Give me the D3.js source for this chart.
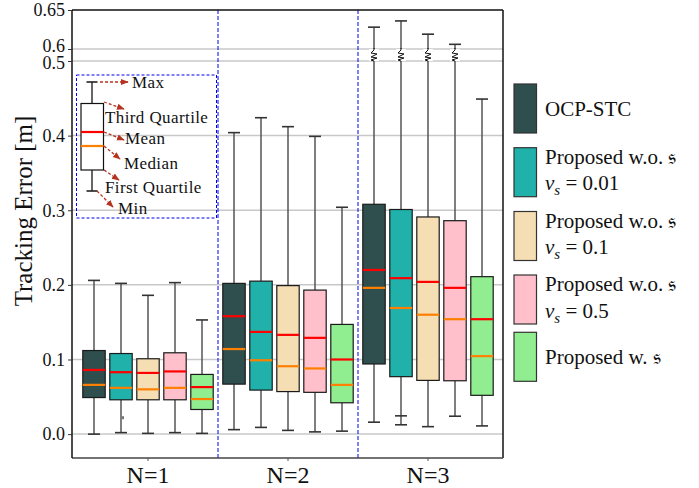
<!DOCTYPE html>
<html>
<head>
<meta charset="utf-8">
<script src="https://cdn.jsdelivr.net/npm/d3@7"></script>
<style>
  body { margin: 0; background: #fff; }
  text { font-family: "Liberation Serif", "Times New Roman", serif; fill: #111; }
</style>
</head>
<body>
<svg id="chart" width="699" height="488"></svg>
<script>
// DATA
// groups on the x axis
var groups = ["N=1", "N=2", "N=3"];
// series (legend order)
var seriesLabels = [
  ["OCP-STC"],
  ["Proposed w.o. \u{1D530}", "0.01"],
  ["Proposed w.o. \u{1D530}", "0.1"],
  ["Proposed w.o. \u{1D530}", "0.5"],
  ["Proposed w. \u{1D530}"]
];
var seriesColors = ["#2f4f4f", "#20b2aa", "#f5deb3", "#ffc0cb", "#90ee90"];

// box statistics, one row per series, one value per group (N=1, N=2, N=3)
var maxVals    = [[0.206, 0.404, 0.628], [0.202, 0.424, 0.636], [0.186, 0.412, 0.619], [0.203, 0.399, 0.606], [0.153, 0.304, 0.449]];
var q3Vals     = [[0.112, 0.202, 0.308], [0.108, 0.205, 0.301], [0.101, 0.199, 0.291], [0.109, 0.193, 0.286], [0.080, 0.147, 0.211]];
var meanVals   = [[0.086, 0.158, 0.220], [0.083, 0.137, 0.209], [0.082, 0.133, 0.204], [0.084, 0.129, 0.196], [0.063, 0.100, 0.154]];
var medianVals = [[0.066, 0.114, 0.196], [0.062, 0.099, 0.169], [0.060, 0.091, 0.160], [0.062, 0.088, 0.154], [0.047, 0.066, 0.1045]];
var q1Vals     = [[0.049, 0.067, 0.094], [0.046, 0.059, 0.077], [0.046, 0.057, 0.072], [0.046, 0.056, 0.0715], [0.033, 0.042, 0.052]];
var minVals    = [[0.000, 0.006, 0.016], [0.002, 0.009, 0.0125], [0.001, 0.005, 0.010], [0.002, 0.003, 0.024], [0.001, 0.004, 0.011]];
// stray points
var flierDots = [{ group: "N=1", series: 1, value: 0.022 }];
var flierCaps = [{ group: "N=3", series: 1, value: 0.0245 }];

// y axis ticks (broken axis above 0.5)
var yTicks = [0, 0.1, 0.2, 0.3, 0.4, 0.5, 0.6, 0.65];
var yTickLabels = ["0.0", "0.1", "0.2", "0.3", "0.4", "0.5", "0.6", "0.65"];

// LAYOUT
var svg = d3.select("#chart");
var pLeft = 72, pRight = 503, pTop = 10, pBottom = 458;

var x = d3.scaleBand().domain(groups).range([78, 498]);
var xs = d3.scaleBand().domain(d3.range(seriesLabels.length))
  .range([2.5, x.bandwidth() - 2.5]).paddingInner(0.17).paddingOuter(0.085);
var y = d3.scaleLinear().domain([-0.032, 0.5, 0.6, 0.65]).range([pBottom, 61, 49, pTop]);

var boxes = [];
groups.forEach(function(g, gi) {
  seriesLabels.forEach(function(s, si) {
    boxes.push({
      g: g, s: si,
      max: maxVals[si][gi], q3: q3Vals[si][gi], mean: meanVals[si][gi],
      med: medianVals[si][gi], q1: q1Vals[si][gi], min: minVals[si][gi]
    });
  });
});

// gridlines
svg.append("g").selectAll("line")
  .data(yTicks.filter(function(d) { return d < 0.65; }))
  .enter().append("line")
  .attr("x1", pLeft).attr("x2", pRight)
  .attr("y1", function(d) { return y(d); }).attr("y2", function(d) { return y(d); })
  .attr("stroke", "#c8c8c8").attr("stroke-width", 1.5);

// group separators
svg.append("g").selectAll("line")
  .data(groups.slice(1))
  .enter().append("line")
  .attr("x1", function(d) { return x(d); }).attr("x2", function(d) { return x(d); })
  .attr("y1", pTop).attr("y2", pBottom)
  .attr("stroke", "#0000ee").attr("stroke-width", 1).attr("stroke-dasharray", "4,2");

// boxes
var capW = 12;
var bx = function(d) { return x(d.g) + xs(d.s); };
var cx = function(d) { return bx(d) + xs.bandwidth() / 2; };
var bg = svg.append("g").selectAll("g").data(boxes).enter().append("g");

bg.append("line")
  .attr("x1", cx).attr("x2", cx)
  .attr("y1", function(d) { return y(d.max); }).attr("y2", function(d) { return y(d.q3); })
  .attr("stroke", "#555").attr("stroke-width", 1.5);
bg.append("line")
  .attr("x1", cx).attr("x2", cx)
  .attr("y1", function(d) { return y(d.q1); }).attr("y2", function(d) { return y(d.min); })
  .attr("stroke", "#555").attr("stroke-width", 1.5);
["max", "min"].forEach(function(k) {
  bg.append("line")
    .attr("x1", function(d) { return cx(d) - capW / 2; })
    .attr("x2", function(d) { return cx(d) + capW / 2; })
    .attr("y1", function(d) { return y(d[k]); }).attr("y2", function(d) { return y(d[k]); })
    .attr("stroke", "#333").attr("stroke-width", 1.6);
});
bg.append("rect")
  .attr("x", bx).attr("width", xs.bandwidth())
  .attr("y", function(d) { return y(d.q3); })
  .attr("height", function(d) { return y(d.q1) - y(d.q3); })
  .attr("fill", function(d) { return seriesColors[d.s]; })
  .attr("stroke", "#1a1a1a").attr("stroke-width", 1.2);
bg.append("line")
  .attr("x1", bx).attr("x2", function(d) { return bx(d) + xs.bandwidth(); })
  .attr("y1", function(d) { return y(d.med); }).attr("y2", function(d) { return y(d.med); })
  .attr("stroke", "#ff8000").attr("stroke-width", 2.2);
bg.append("line")
  .attr("x1", bx).attr("x2", function(d) { return bx(d) + xs.bandwidth(); })
  .attr("y1", function(d) { return y(d.mean); }).attr("y2", function(d) { return y(d.mean); })
  .attr("stroke", "#ff0000").attr("stroke-width", 2.2);

// axis break marks on whiskers that cross the 0.5-0.6 gap
var breakY = (y(0.5) + y(0.6)) / 2;
var br = svg.append("g").selectAll("g")
  .data(boxes.filter(function(d) { return d.max > 0.5; }))
  .enter().append("g");
br.append("rect")
  .attr("x", function(d) { return cx(d) - 5; }).attr("y", breakY - 6)
  .attr("width", 10).attr("height", 12).attr("fill", "#fff");
br.append("path")
  .attr("d", function(d) {
    var c = cx(d);
    return "M" + c + "," + (breakY - 7) + "L" + c + "," + (breakY - 5) +
      "L" + (c - 3) + "," + (breakY - 2) + "L" + (c + 3) + "," + (breakY - 1) +
      "L" + (c - 3) + "," + (breakY + 2) + "L" + (c + 3) + "," + (breakY + 3) +
      "L" + (c - 3) + "," + (breakY + 5) + "L" + c + "," + (breakY + 6);
  })
  .attr("fill", "none").attr("stroke", "#111").attr("stroke-width", 1);

// fliers
svg.append("g").selectAll("rect").data(flierDots).enter().append("rect")
  .attr("x", function(d) { return x(d.group) + xs(d.series) + xs.bandwidth() / 2 + 1; })
  .attr("y", function(d) { return y(d.value) - 1.5; })
  .attr("width", 2).attr("height", 3).attr("fill", "#777");
svg.append("g").selectAll("line").data(flierCaps).enter().append("line")
  .attr("x1", function(d) { return x(d.group) + xs(d.series) + xs.bandwidth() / 2 - capW / 2; })
  .attr("x2", function(d) { return x(d.group) + xs(d.series) + xs.bandwidth() / 2 + capW / 2; })
  .attr("y1", function(d) { return y(d.value); }).attr("y2", function(d) { return y(d.value); })
  .attr("stroke", "#333").attr("stroke-width", 1.6);

// frame
svg.append("line").attr("x1", pLeft).attr("x2", pRight).attr("y1", pTop).attr("y2", pTop)
  .attr("stroke", "#111").attr("stroke-width", 1.5);
svg.append("line").attr("x1", pRight).attr("x2", pRight).attr("y1", pTop).attr("y2", pBottom)
  .attr("stroke", "#111").attr("stroke-width", 1.5);
svg.append("line").attr("x1", pLeft).attr("x2", pRight).attr("y1", pBottom).attr("y2", pBottom)
  .attr("stroke", "#444").attr("stroke-width", 1.5);
svg.append("line").attr("x1", pLeft).attr("x2", pLeft).attr("y1", pTop).attr("y2", pBottom)
  .attr("stroke", "#111").attr("stroke-width", 1.5);

// axes
var ya = svg.append("g").attr("transform", "translate(" + pLeft + ",0)")
  .call(d3.axisLeft(y).tickValues(yTicks)
    .tickFormat(function(d, i) { return yTickLabels[i]; })
    .tickSize(4).tickPadding(3));
ya.select(".domain").remove();
ya.selectAll("text").style("font-family", "Liberation Serif").style("font-size", "18px").attr("fill", "#111")
  // the 0.5 / 0.6 labels sit very close on the broken axis; nudge them apart
  .attr("dy", function(d) { return d === 0.6 ? "0.12em" : d === 0.5 ? "0.42em" : "0.32em"; });
ya.selectAll("line").attr("stroke", "#333");

var xa = svg.append("g").attr("transform", "translate(0," + pBottom + ")")
  .call(d3.axisBottom(x).tickSize(3).tickPadding(4.5));
xa.select(".domain").remove();
xa.selectAll("text").style("font-family", "Liberation Serif").style("font-size", "24px").attr("fill", "#111");
xa.selectAll("line").attr("stroke", "#555");

svg.append("text")
  .attr("transform", "translate(32,211) rotate(-90)")
  .attr("text-anchor", "middle")
  .style("font-size", "25px")
  .text("Tracking Error [m]");

// explanation inset
var brown = "#b5331f";
svg.append("defs").append("marker")
  .attr("id", "arr").attr("viewBox", "0 0 10 10")
  .attr("refX", 9).attr("refY", 5)
  .attr("markerWidth", 6).attr("markerHeight", 6)
  .attr("orient", "auto")
  .append("path").attr("d", "M0,1L10,5L0,9z").attr("fill", brown);

var inset = svg.append("g");
inset.append("rect").attr("x", 76.5).attr("y", 75).attr("width", 140).attr("height", 143)
  .attr("fill", "none").attr("stroke", "#0000ee").attr("stroke-width", 1).attr("stroke-dasharray", "3,2");
inset.append("line").attr("x1", 92).attr("x2", 92).attr("y1", 82).attr("y2", 191)
  .attr("stroke", "#333").attr("stroke-width", 1.5);
inset.append("line").attr("x1", 86.5).attr("x2", 97.5).attr("y1", 82).attr("y2", 82)
  .attr("stroke", "#222").attr("stroke-width", 1.6);
inset.append("line").attr("x1", 86.5).attr("x2", 97.5).attr("y1", 191).attr("y2", 191)
  .attr("stroke", "#222").attr("stroke-width", 1.6);
inset.append("rect").attr("x", 81).attr("y", 103.5).attr("width", 22.5).attr("height", 66.5)
  .attr("fill", "#fff").attr("stroke", "#111").attr("stroke-width", 1.2);
inset.append("line").attr("x1", 81).attr("x2", 103.5).attr("y1", 132).attr("y2", 132)
  .attr("stroke", "#ff0000").attr("stroke-width", 2.2);
inset.append("line").attr("x1", 81).attr("x2", 103.5).attr("y1", 146).attr("y2", 146)
  .attr("stroke", "#ff8000").attr("stroke-width", 2.2);

var notes = [
  { t: "Max",            x1: 100, y1: 82,  x2: 128, y2: 82,  tx: 132, ty: 88 },
  { t: "Third Quartile", x1: 104, y1: 102, x2: 124, y2: 109, tx: 105, ty: 123 },
  { t: "Mean",           x1: 104, y1: 132, x2: 124, y2: 140, tx: 125, ty: 144 },
  { t: "Median",         x1: 104, y1: 146, x2: 120, y2: 159, tx: 124, ty: 169 },
  { t: "First Quartile", x1: 104, y1: 170, x2: 119, y2: 180, tx: 105, ty: 192.5 },
  { t: "Min",            x1: 97,  y1: 191, x2: 113, y2: 207, tx: 118, ty: 214 }
];
inset.selectAll("path.note").data(notes).enter().append("path")
  .attr("class", "note")
  .attr("d", function(d) { return "M" + d.x1 + "," + d.y1 + "L" + d.x2 + "," + d.y2; })
  .attr("stroke", brown).attr("stroke-width", 1.3).attr("stroke-dasharray", "3,2")
  .attr("fill", "none").attr("marker-end", "url(#arr)");
inset.selectAll("text.note").data(notes).enter().append("text")
  .attr("class", "note")
  .attr("x", function(d) { return d.tx; }).attr("y", function(d) { return d.ty; })
  .style("font-size", "17px").style("letter-spacing", "0.4px")
  .text(function(d) { return d.t; });

// legend
var legendTops = [84, 147.7, 211.5, 275, 332.3];
var swH = 49;
var lg = svg.append("g").selectAll("g").data(seriesLabels).enter().append("g")
  .attr("transform", function(d, i) { return "translate(514," + legendTops[i] + ")"; });
lg.append("rect")
  .attr("width", 22.5).attr("height", swH)
  .attr("fill", function(d, i) { return seriesColors[i]; })
  .attr("stroke", "#333").attr("stroke-width", 1.2);
lg.each(function(d) {
  var g = d3.select(this);
  var mid = swH / 2;
  if (d.length === 1) {
    g.append("text").attr("x", 31).attr("y", mid + 7).style("font-size", "21px").text(d[0]);
  } else {
    g.append("text").attr("x", 31).attr("y", mid - 8.5).style("font-size", "21px").text(d[0]);
    var t = g.append("text").attr("x", 31).attr("y", mid + 18).style("font-size", "21px");
    t.append("tspan").style("font-style", "italic").text("v");
    t.append("tspan").style("font-style", "italic").style("font-size", "15px").attr("dy", 5).text("s");
    t.append("tspan").attr("dy", -5).text(" = " + d[1]);
  }
});
</script>
</body>
</html>
